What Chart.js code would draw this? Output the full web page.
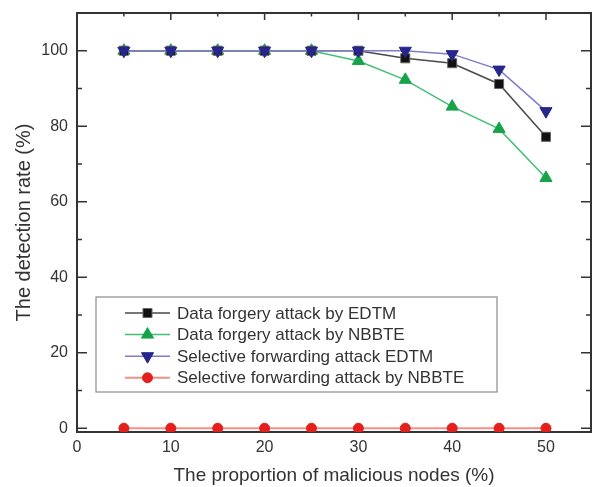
<!DOCTYPE html>
<html>
<head>
<meta charset="utf-8">
<script src="https://cdn.jsdelivr.net/npm/chart.js@4.4.1/dist/chart.umd.min.js"></script>
<style>
  html, body { margin: 0; padding: 0; background: #fff; }
  #wrap { width: 592px; height: 487px; }
</style>
</head>
<body>
<div id="wrap"><canvas id="c" width="592" height="487"></canvas></div>
<script>
// Proportion of malicious nodes (%)
const nodeShare = [5, 10, 15, 20, 25, 30, 35, 40, 45, 50];

// Detection rate (%) per scheme
const forgeryEDTM = [100, 100, 100, 100, 100, 100, 98, 96.7, 91.2, 77.2];
const forgeryNBBTE = [100, 100, 100, 100, 100, 97.3, 92.3, 85.2, 79.3, 66.3];
const forwardingEDTM = [100, 100, 100, 100, 100, 100, 100, 99.1, 95, 84];
const forwardingNBBTE = [0, 0, 0, 0, 0, 0, 0, 0, 0, 0];

const seriesNames = [
  'Data forgery attack by EDTM',
  'Data forgery attack by NBBTE',
  'Selective forwarding attack EDTM',
  'Selective forwarding attack by NBBTE'
];

const xMajorTicks = [0, 10, 20, 30, 40, 50];
const yMajorTicks = [0, 20, 40, 60, 80, 100];

const toPoints = vals => vals.map((v, i) => ({ x: nodeShare[i], y: v }));

const datasets = [
  {
    label: seriesNames[0], data: toPoints(forgeryEDTM),
    borderColor: '#4a4a4a', borderWidth: 1.5,
    pointStyle: 'rect', pointRadius: 6.4, pointHoverRadius: 6.4,
    pointBackgroundColor: '#111111', pointBorderColor: '#666666', pointBorderWidth: 1,
    order: 2
  },
  {
    label: seriesNames[1], data: toPoints(forgeryNBBTE),
    borderColor: '#40c074', borderWidth: 1.5,
    pointStyle: 'triangle', pointRadius: 7, pointHoverRadius: 7,
    pointBackgroundColor: '#17a34a', pointBorderColor: '#17a34a', pointBorderWidth: 1,
    order: 3
  },
  {
    label: seriesNames[2], data: toPoints(forwardingEDTM),
    borderColor: '#7d7dca', borderWidth: 1.5,
    pointStyle: 'triangle', pointRotation: 180, pointRadius: 7, pointHoverRadius: 7,
    pointBackgroundColor: '#26268c', pointBorderColor: '#26268c', pointBorderWidth: 1,
    order: 1
  },
  {
    label: seriesNames[3], data: toPoints(forwardingNBBTE),
    borderColor: '#f29088', borderWidth: 2,
    pointStyle: 'circle', pointRadius: 5, pointHoverRadius: 5,
    pointBackgroundColor: '#e3201b', pointBorderColor: '#e3201b', pointBorderWidth: 1,
    order: 4
  }
];

const axisColor = '#333333';
const fontFamily = '"Liberation Sans", Arial, sans-serif';

// Closed frame with inward major/minor tick marks on all four sides
const framePlugin = {
  id: 'frame',
  beforeDatasetsDraw(chart) {
    const { ctx, chartArea: a, scales: { x, y } } = chart;
    ctx.save();
    ctx.strokeStyle = axisColor;
    ctx.lineWidth = 1.5;
    ctx.beginPath();
    for (let v = 5; v < 55; v += 5) {
      const px = x.getPixelForValue(v);
      const len = v % 10 === 0 ? 7 : 3.5;
      ctx.moveTo(px, a.top); ctx.lineTo(px, a.top + len);
      ctx.moveTo(px, a.bottom); ctx.lineTo(px, a.bottom - len);
    }
    for (let v = 0; v <= 100; v += 10) {
      const py = y.getPixelForValue(v);
      const len = v % 20 === 0 ? 10 : 5;
      ctx.moveTo(a.left, py); ctx.lineTo(a.left + len, py);
      ctx.moveTo(a.right, py); ctx.lineTo(a.right - len, py);
    }
    ctx.stroke();
    ctx.lineWidth = 2;
    ctx.strokeRect(a.left, a.top, a.right - a.left, a.bottom - a.top);
    ctx.restore();
  }
};

// Boxed legend sitting inside the plot area
const legendBoxPlugin = {
  id: 'legendBox',
  afterDatasetsDraw(chart) {
    const { ctx, chartArea: a } = chart;
    const left = a.left + 19, top = 297, w = 401, h = 95;
    ctx.save();
    ctx.fillStyle = '#ffffff';
    ctx.fillRect(left, top, w, h);
    ctx.strokeStyle = '#8a8a8a';
    ctx.lineWidth = 1.2;
    ctx.strokeRect(left, top, w, h);
    ctx.font = '17px ' + fontFamily;
    ctx.textBaseline = 'middle';
    chart.data.datasets.forEach((ds, i) => {
      const cy = top + 16 + i * 21.6;
      const x1 = left + 29, x2 = left + 74, mx = (x1 + x2) / 2;
      ctx.strokeStyle = ds.borderColor;
      ctx.lineWidth = ds.borderWidth;
      ctx.beginPath(); ctx.moveTo(x1, cy); ctx.lineTo(x2, cy); ctx.stroke();
      ctx.fillStyle = ds.pointBackgroundColor;
      ctx.strokeStyle = ds.pointBorderColor;
      ctx.lineWidth = ds.pointBorderWidth;
      Chart.helpers.drawPoint(ctx, {
        pointStyle: ds.pointStyle,
        rotation: ds.pointRotation || 0,
        radius: ds.pointRadius,
        borderWidth: ds.pointBorderWidth
      }, mx, cy);
      ctx.fillStyle = '#333333';
      ctx.fillText(ds.label, left + 81, cy + 1);
    });
    ctx.restore();
  }
};

const zeroPadding = s => { s.paddingTop = 0; s.paddingBottom = 0; s.paddingLeft = 0; s.paddingRight = 0; };

new Chart(document.getElementById('c'), {
  type: 'line',
  data: { datasets },
  options: {
    responsive: false,
    animation: false,
    layout: { autoPadding: false, padding: { top: 13, right: 1, left: 0, bottom: 0 } },
    plugins: { legend: { display: false }, tooltip: { enabled: false } },
    scales: {
      x: {
        type: 'linear', min: 0, max: 54.8,
        afterFit: s => { s.height = 55; zeroPadding(s); },
        grid: { display: false, drawTicks: false, tickLength: 0 },
        border: { display: false },
        ticks: {
          includeBounds: false, stepSize: 10, padding: 6,
          color: '#333', font: { family: fontFamily, size: 16 },
          callback: v => xMajorTicks.includes(v) ? String(v) : ''
        },
        title: {
          display: true, text: 'The proportion of malicious nodes (%)',
          color: '#333', font: { family: fontFamily, size: 19 },
          padding: { top: 0, bottom: 0 }
        }
      },
      y: {
        type: 'linear', min: -1, max: 110,
        afterFit: s => { s.width = 77; zeroPadding(s); },
        grid: { display: false, drawTicks: false, tickLength: 0 },
        border: { display: false },
        ticks: {
          includeBounds: false, stepSize: 10, padding: 9,
          color: '#333', font: { family: fontFamily, size: 16 },
          callback: v => yMajorTicks.includes(v) ? String(v) : ''
        },
        title: {
          display: true, text: 'The detection rate (%)',
          color: '#333', font: { family: fontFamily, size: 20 },
          padding: { top: 12, bottom: 0 }
        }
      }
    }
  },
  plugins: [framePlugin, legendBoxPlugin]
});
</script>
</body>
</html>
